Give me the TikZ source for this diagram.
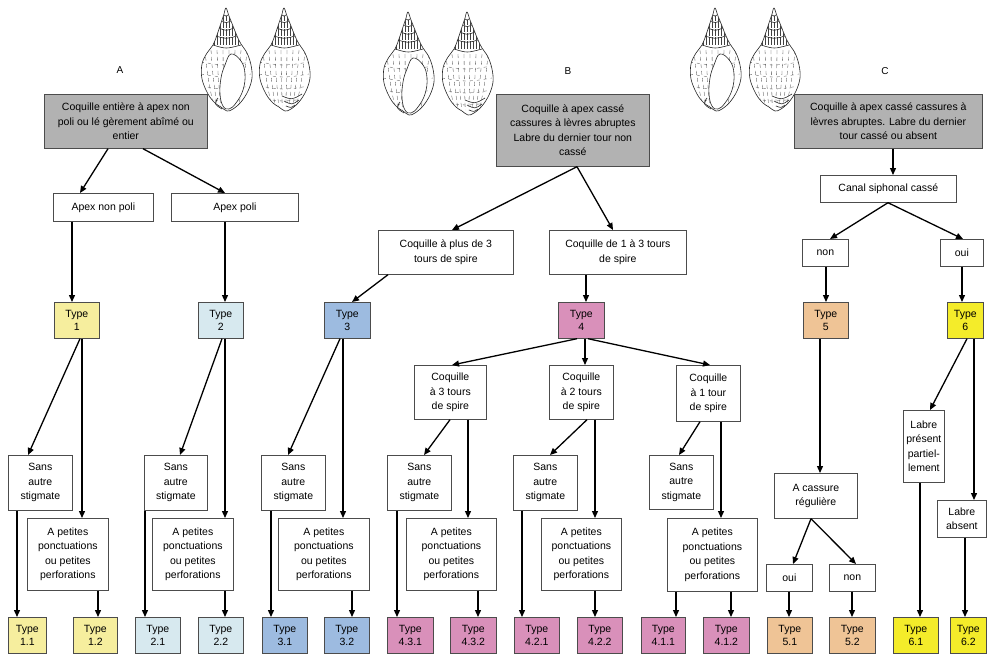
\documentclass[tikz,border=0pt]{standalone}
\usepackage{fontspec}
\setmainfont{Liberation Sans}
\usetikzlibrary{arrows.meta,calc}
\definecolor{grisbox}{HTML}{B2B2B2}
\definecolor{tya}{HTML}{F6EE9E}
\definecolor{tyb}{HTML}{D7E9EF}
\definecolor{tyc}{HTML}{9DBBE0}
\definecolor{tyd}{HTML}{D990BA}
\definecolor{tye}{HTML}{EFC496}
\definecolor{tyf}{HTML}{F4EC2A}
\newcommand\nd[7]{\node[#6, minimum width=#4pt, minimum height=#5pt, anchor=north west] (#1) at (#2,#3) {#7};}
\newcommand\myarr[4]{\draw[arr] ([xshift=#2pt]#1.south west) -- ([xshift=#4pt]#3.north west);}
\newcommand\myvarr[3]{\path ([xshift=#2pt]#1.south west) coordinate (tmpa); \draw[arr] (tmpa) -- (tmpa |- #3.north);}
\tikzset{
 shl/.style={line width=0.6pt, line join=round, black!85},
 stria/.style={line width=0.3pt, black!75},
 shellbase/.pic={
  \draw[shl, fill=white] plot[smooth cycle, tension=0.6] coordinates {(0,0) (3,8) (7,18) (11,28) (15,36) (21,45) (25,57) (26,70) (22,83) (15,94) (7,101) (1,103) (-5,99) (-11,95) (-18,86) (-24,71) (-24,56) (-19,45) (-13,37) (-9,27) (-5,15) (-2,6)};
  \begin{scope}
   \clip plot[smooth cycle, tension=0.6] coordinates {(0,0) (3,8) (7,18) (11,28) (15,36) (21,45) (25,57) (26,70) (22,83) (15,94) (7,101) (1,103) (-5,99) (-11,95) (-18,86) (-24,71) (-24,56) (-19,45) (-13,37) (-9,27) (-5,15) (-2,6)};
   \foreach \i in {-3,0,3} {\draw[stria] (\i,8) -- (\i,13);}
   \foreach \i in {-6,-3,...,7} {\draw[stria] (\i,14) -- (\i,20);}
   \foreach \i in {-9,-6,...,10} {\draw[stria] (\i,21) -- (\i,28);}
   \foreach \i in {-12,-9,...,14} {\draw[stria] (\i,29) -- (\i,37);}
   \foreach \i in {-21,-15,...,22} {\draw[stria, dash pattern=on 4pt off 3pt] (\i,42) .. controls (\i*0.9,65) .. (\i*0.6,98);}
   \foreach \j in {54,66,...,90} {\draw[stria, dash pattern=on 3pt off 4pt] (-25,\j) .. controls (0,\j+4) .. (25,\j);}
  \end{scope}
  \draw[shl] (-2,7) .. controls (0,8.5) .. (2,7);
  \draw[shl] (-4,13) .. controls (0,15) .. (5,13);
  \draw[shl] (-7,20) .. controls (0,23) .. (8,20);
  \draw[shl] (-10,28) .. controls (0,31) .. (11,28);
  \draw[shl] (-13,37) .. controls (0,41) .. (15,37);
 },
 shellfront/.pic={
  \pic {shellbase};
  \draw[shl, fill=white] plot[smooth cycle, tension=0.7] coordinates {(5,46) (15,53) (19,66) (17,82) (10,95) (3,101) (-3,98) (-6,86) (-5,70) (-1,57)};
  \draw[shl] (-8,90) .. controls (-12,96) .. (-4,101);
 },
 shellback/.pic={
  \pic {shellbase};
  \draw[shl] (-2,88) .. controls (8,92) .. (18,86);
  \draw[shl] (0,93) .. controls (8,97) .. (15,92);
  \draw[shl] (2,98) .. controls (7,100) .. (11,97);
 }
}
\begin{document}
\begin{tikzpicture}[x=1pt,y=-1pt,
 box/.style={draw=black!70, line width=0.7pt, fill=white, align=center, inner sep=1pt, font={\fontsize{10.5}{14.5}\selectfont}},
 grey/.style={box, fill=grisbox},
 ty/.style={box, font={\fontsize{10.5}{13.5}\selectfont}},
 arr/.style={-{Triangle[length=7pt,width=6pt]}, line width=1.3pt, black},
 lab/.style={font={\fontsize{10}{12}\selectfont}, inner sep=0pt}]
\useasboundingbox[fill=white] (0,0) rectangle (987,656);

% shells
\pic at (226,8) {shellfront};
\pic at (284,8) {shellback};
\pic at (408,12) {shellfront};
\pic at (467,12) {shellback};
\pic at (715,8) {shellfront};
\pic at (774,8) {shellback};

% labels
\node[lab] (labA) at (120,70) {A};
\node[lab] (labB) at (568,71) {B};
\node[lab] (labC) at (885,71) {C};

% top boxes
\nd{gA}{44}{94}{163}{54}{grey}{Coquille entière à apex non\\poli ou lé gèrement abîmé ou\\entier}
\nd{gB}{496}{94}{153}{72}{grey}{Coquille à apex cassé\\cassures à lèvres abruptes\\Labre du dernier tour non\\cassé}
\nd{gC}{794}{94}{188}{54}{grey}{Coquille à apex cassé cassures à\\lèvres abruptes. Labre du dernier\\tour cassé ou absent}
\nd{anp}{53}{193}{100}{28}{box}{Apex non poli}
\nd{ap}{171}{193}{127}{28}{box}{Apex poli}
\nd{cp3}{378}{230}{135}{44}{box}{Coquille à plus de 3\\tours de spire}
\nd{c13}{549}{230}{137}{44}{box}{Coquille de 1 à 3 tours\\de spire}
\nd{canal}{820}{175}{136}{27}{box}{Canal siphonal cassé}
\nd{non1}{802}{239}{46}{27}{box}{non}
\nd{oui1}{940}{239}{43}{27}{box}{oui}

% types
\nd{t1}{54}{302}{45}{36}{ty,fill=tya}{Type\\1}
\nd{t2}{198}{302}{45}{36}{ty,fill=tyb}{Type\\2}
\nd{t3}{324}{302}{46}{36}{ty,fill=tyc}{Type\\3}
\nd{t4}{558}{302}{46}{36}{ty,fill=tyd}{Type\\4}
\nd{t5}{803}{302}{45}{36}{ty,fill=tye}{Type\\5}
\nd{t6}{947}{302}{36}{36}{ty,fill=tyf}{Type\\6}

% middle boxes
\nd{s1}{8}{455}{64}{55}{box}{Sans\\autre\\stigmate}
\nd{p1}{27}{518}{81}{72}{box}{A petites\\ponctuations\\ou petites\\perforations}
\nd{s2}{144}{455}{63}{55}{box}{Sans\\autre\\stigmate}
\nd{p2}{152}{518}{81}{72}{box}{A petites\\ponctuations\\ou petites\\perforations}
\nd{s3}{261}{455}{64}{55}{box}{Sans\\autre\\stigmate}
\nd{p3}{278}{518}{91}{72}{box}{A petites\\ponctuations\\ou petites\\perforations}
\nd{coq3}{414}{365}{72}{54}{box}{Coquille\\à 3 tours\\de spire}
\nd{coq2}{549}{365}{64}{54}{box}{Coquille\\à 2 tours\\de spire}
\nd{coq1}{676}{365}{64}{56}{box}{Coquille\\à 1 tour\\de spire}
\nd{s43}{387}{455}{64}{55}{box}{Sans\\autre\\stigmate}
\nd{p43}{406}{518}{90}{72}{box}{A petites\\ponctuations\\ou petites\\perforations}
\nd{s42}{513}{455}{64}{55}{box}{Sans\\autre\\stigmate}
\nd{p42}{541}{518}{80}{72}{box}{A petites\\ponctuations\\ou petites\\perforations}
\nd{s41}{649}{455}{64}{54}{box}{Sans\\autre\\stigmate}
\nd{p41}{667}{518}{90}{73}{box}{A petites\\ponctuations\\ou petites\\perforations}
\nd{acr}{774}{473}{83}{45}{box}{A cassure\\régulière}
\nd{oui2}{766}{564}{46}{27}{box}{oui}
\nd{non2}{829}{564}{46}{27}{box}{non}
\nd{lp}{903}{410}{41}{72}{box}{Labre\\présent\\partiel-\\lement}
\nd{la}{937}{500}{49}{37}{box}{Labre\\absent}

% bottom types
\nd{t11}{8}{617}{38}{36}{ty,fill=tya}{Type\\1.1}
\nd{t12}{73}{617}{44}{36}{ty,fill=tya}{Type\\1.2}
\nd{t21}{135}{617}{45}{36}{ty,fill=tyb}{Type\\2.1}
\nd{t22}{198}{617}{45}{36}{ty,fill=tyb}{Type\\2.2}
\nd{t31}{262}{617}{45}{36}{ty,fill=tyc}{Type\\3.1}
\nd{t32}{324}{617}{45}{36}{ty,fill=tyc}{Type\\3.2}
\nd{t431}{387}{617}{46}{36}{ty,fill=tyd}{Type\\4.3.1}
\nd{t432}{450}{617}{46}{36}{ty,fill=tyd}{Type\\4.3.2}
\nd{t421}{514}{617}{45}{36}{ty,fill=tyd}{Type\\4.2.1}
\nd{t422}{577}{617}{45}{36}{ty,fill=tyd}{Type\\4.2.2}
\nd{t411}{641}{617}{44}{36}{ty,fill=tyd}{Type\\4.1.1}
\nd{t412}{703}{617}{46}{36}{ty,fill=tyd}{Type\\4.1.2}
\nd{t51}{767}{617}{45}{36}{ty,fill=tye}{Type\\5.1}
\nd{t52}{829}{617}{46}{36}{ty,fill=tye}{Type\\5.2}
\nd{t61}{893}{617}{45}{36}{ty,fill=tyf}{Type\\6.1}
\nd{t62}{950}{617}{36}{36}{ty,fill=tyf}{Type\\6.2}

% connectors A
\myarr{gA}{64}{anp}{27}
\myarr{gA}{99}{ap}{54}
\myvarr{anp}{19}{t1}
\myvarr{ap}{54}{t2}
\myarr{t1}{26}{s1}{20}
\myvarr{t1}{28}{p1}
\myvarr{s1}{9}{t11}
\myvarr{p1}{71}{t12}
\myarr{t2}{24}{s2}{36}
\myvarr{t2}{27}{p2}
\myvarr{s2}{1}{t21}
\myvarr{p2}{73}{t22}
\myarr{cp3}{10}{t3}{28}
\myarr{t3}{16}{s3}{27}
\myvarr{t3}{19}{p3}
\myvarr{s3}{10}{t31}
\myvarr{p3}{74}{t32}
% connectors B
\myarr{gB}{81}{cp3}{74}
\myarr{gB}{81}{c13}{64}
\myvarr{c13}{37}{t4}
\myarr{t4}{19}{coq3}{38}
\myvarr{t4}{27}{coq2}
\myarr{t4}{30}{coq1}{34}
\myarr{coq3}{36}{s43}{37}
\myvarr{coq3}{54}{p43}
\myvarr{s43}{10}{t431}
\myvarr{p43}{72}{t432}
\myarr{coq2}{38}{s42}{37}
\myvarr{coq2}{46}{p42}
\myvarr{s42}{9}{t421}
\myvarr{p42}{54}{t422}
\myarr{coq1}{24}{s41}{30}
\myvarr{coq1}{45}{p41}
\myvarr{p41}{9}{t411}
\myvarr{p41}{64}{t412}
% connectors C
\myvarr{gC}{99}{canal}
\myarr{canal}{68}{non1}{28}
\myarr{canal}{68}{oui1}{23}
\myvarr{non1}{24}{t5}
\myvarr{oui1}{22}{t6}
\myvarr{t5}{17}{acr}
\myarr{acr}{37}{oui2}{27}
\myarr{acr}{37}{non2}{27}
\myvarr{oui2}{23}{t51}
\myvarr{non2}{23}{t52}
\myarr{t6}{20}{lp}{27}
\myvarr{t6}{27}{la}
\myvarr{lp}{17}{t61}
\myvarr{la}{28}{t62}
\end{tikzpicture}
\end{document}
